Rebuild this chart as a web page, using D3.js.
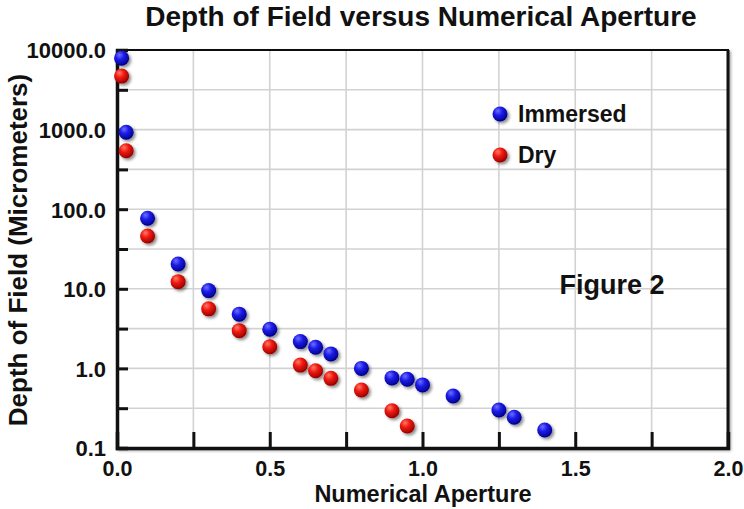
<!DOCTYPE html>
<html>
<head>
<meta charset="utf-8">
<script src="https://cdn.jsdelivr.net/npm/d3@7"></script>
<style>
  body { margin: 0; background: #fff; }
  svg text { font-family: "Liberation Sans", Arial, sans-serif; font-weight: bold; fill: #111; }
</style>
</head>
<body>
<div id="vis"></div>
<script>
// numerical aperture and depth of field (micrometers)
const immersedNA  = [0.015, 0.03, 0.10, 0.20, 0.30, 0.40, 0.50, 0.60, 0.65, 0.70, 0.80, 0.90, 0.95, 1.00, 1.10, 1.25, 1.30, 1.40];
const immersedDOF = [7900, 925, 77, 20.5, 9.5, 4.8, 3.1, 2.17, 1.84, 1.52, 1.0, 0.76, 0.73, 0.62, 0.45, 0.30, 0.243, 0.168];
const dryNA  = [0.015, 0.03, 0.10, 0.20, 0.30, 0.40, 0.50, 0.60, 0.65, 0.70, 0.80, 0.90, 0.95];
const dryDOF = [4700, 543, 46, 12.3, 5.6, 2.98, 1.87, 1.10, 0.935, 0.75, 0.536, 0.294, 0.189];

const xTicks = [0, 0.25, 0.5, 0.75, 1.0, 1.25, 1.5, 1.75, 2.0];
const yDecades = [0.1, 1, 10, 100, 1000, 10000];
const seriesNames = ['Immersed', 'Dry'];

const width = 744;
const height = 509;
const plot = { left: 117, right: 728, top: 50, bottom: 448 };

const svg = d3.select('#vis').append('svg')
  .attr('width', width)
  .attr('height', height);

const defs = svg.append('defs');

const shadow = defs.append('filter').attr('id', 'shadow')
  .attr('x', '-50%').attr('y', '-50%').attr('width', '200%').attr('height', '200%');
shadow.append('feDropShadow')
  .attr('dx', 2).attr('dy', 2).attr('stdDeviation', 1.5)
  .attr('flood-color', '#000').attr('flood-opacity', 0.45);

const boxShadow = defs.append('filter').attr('id', 'boxShadow')
  .attr('x', '-5%').attr('y', '-5%').attr('width', '110%').attr('height', '110%');
boxShadow.append('feDropShadow')
  .attr('dx', 2).attr('dy', 2).attr('stdDeviation', 1.5)
  .attr('flood-color', '#000').attr('flood-opacity', 0.35);

function ballGradient(id, light, mid, dark) {
  const g = defs.append('radialGradient').attr('id', id)
    .attr('cx', '40%').attr('cy', '35%').attr('r', '65%')
    .attr('fx', '35%').attr('fy', '28%');
  g.append('stop').attr('offset', '0%').attr('stop-color', light);
  g.append('stop').attr('offset', '45%').attr('stop-color', mid);
  g.append('stop').attr('offset', '100%').attr('stop-color', dark);
}
ballGradient('blueBall', '#6f6fff', '#1c1ce8', '#00008c');
ballGradient('redBall', '#ff7a6a', '#f01a10', '#980000');

const fills = { Immersed: 'url(#blueBall)', Dry: 'url(#redBall)' };

const x = d3.scaleLinear().domain([0, 2]).range([plot.left, plot.right]);
const y = d3.scaleLog().domain([0.1, 10000]).range([plot.bottom, plot.top]);

// half-decade grid lines between the decades
const yGrid = [];
yDecades.forEach((d, i) => {
  yGrid.push(d);
  if (i < yDecades.length - 1) yGrid.push(d * Math.sqrt(10));
});

// plot box with shadow
svg.append('rect')
  .attr('x', plot.left).attr('y', plot.top)
  .attr('width', plot.right - plot.left).attr('height', plot.bottom - plot.top)
  .attr('fill', '#fff')
  .attr('stroke', '#111').attr('stroke-width', 2)
  .attr('filter', 'url(#boxShadow)');

// grid
svg.append('g').selectAll('line.vgrid')
  .data(xTicks.slice(1, -1))
  .join('line')
  .attr('x1', d => x(d)).attr('x2', d => x(d))
  .attr('y1', plot.top + 1).attr('y2', plot.bottom)
  .attr('stroke', '#d2d2d2').attr('stroke-width', 1.6);

svg.append('g').selectAll('line.hgrid')
  .data(yGrid.slice(1, -1))
  .join('line')
  .attr('x1', plot.left).attr('x2', plot.right - 1)
  .attr('y1', d => y(d)).attr('y2', d => y(d))
  .attr('stroke', '#d2d2d2').attr('stroke-width', 1.6);

// right border, thicker
svg.append('line')
  .attr('x1', plot.right).attr('x2', plot.right)
  .attr('y1', plot.top).attr('y2', plot.bottom)
  .attr('stroke', '#111').attr('stroke-width', 3);

// axes
const yAxis = d3.axisLeft(y)
  .tickValues(yGrid)
  .tickSize(-11)
  .tickPadding(11)
  .tickFormat(d => yDecades.some(v => Math.abs(v - d) < 1e-9) ? d3.format('.1f')(d) : '');

const gy = svg.append('g')
  .attr('transform', `translate(${plot.left},0)`)
  .call(yAxis);

const xAxis = d3.axisBottom(x)
  .tickValues(xTicks)
  .tickSize(-16)
  .tickPadding(8)
  .tickFormat(d => (Math.round(d * 100) % 50 === 0) ? d3.format('.1f')(d) : '');

const gx = svg.append('g')
  .attr('transform', `translate(0,${plot.bottom})`)
  .call(xAxis);

[gx, gy].forEach(g => {
  g.select('.domain').attr('stroke', '#111').attr('stroke-width', 3.5);
  g.selectAll('.tick line').attr('stroke', '#111').attr('stroke-width', 3);
  g.selectAll('.tick text').attr('font-size', 22).attr('fill', '#111');
});
gx.selectAll('.tick text').attr('y', 28).attr('dy', null).attr('font-size', 21.5);
gy.selectAll('.tick text').attr('dy', '0.36em');

// points
function drawSeries(name, naValues, dofValues) {
  const pts = naValues.map((na, i) => ({ na: na, dof: dofValues[i] }));
  svg.append('g')
    .attr('filter', 'url(#shadow)')
    .selectAll('circle')
    .data(pts)
    .join('circle')
    .attr('cx', d => x(d.na))
    .attr('cy', d => y(d.dof))
    .attr('r', 7.5)
    .attr('fill', fills[name]);
}
drawSeries('Dry', dryNA, dryDOF);
drawSeries('Immersed', immersedNA, immersedDOF);

// legend
const legend = svg.append('g').attr('transform', 'translate(500,114)');
legend.selectAll('g')
  .data(seriesNames)
  .join('g')
  .attr('transform', (d, i) => `translate(0,${i * 41})`)
  .each(function (d) {
    const g = d3.select(this);
    g.append('circle').attr('r', 7.5).attr('fill', fills[d]).attr('filter', 'url(#shadow)');
    g.append('text').attr('x', 18).attr('y', 8).attr('font-size', 23).text(d);
  });

svg.append('text')
  .attr('x', 612).attr('y', 294)
  .attr('text-anchor', 'middle').attr('font-size', 27)
  .text('Figure 2');

// titles
svg.append('text')
  .attr('x', 421).attr('y', 26)
  .attr('text-anchor', 'middle').attr('font-size', 28)
  .text('Depth of Field versus Numerical Aperture');

svg.append('text')
  .attr('x', 423).attr('y', 502)
  .attr('text-anchor', 'middle').attr('font-size', 23.5)
  .text('Numerical Aperture');

svg.append('text')
  .attr('transform', 'translate(27,250) rotate(-90)')
  .attr('text-anchor', 'middle').attr('font-size', 26)
  .text('Depth of Field (Micrometers)');
</script>
</body>
</html>
